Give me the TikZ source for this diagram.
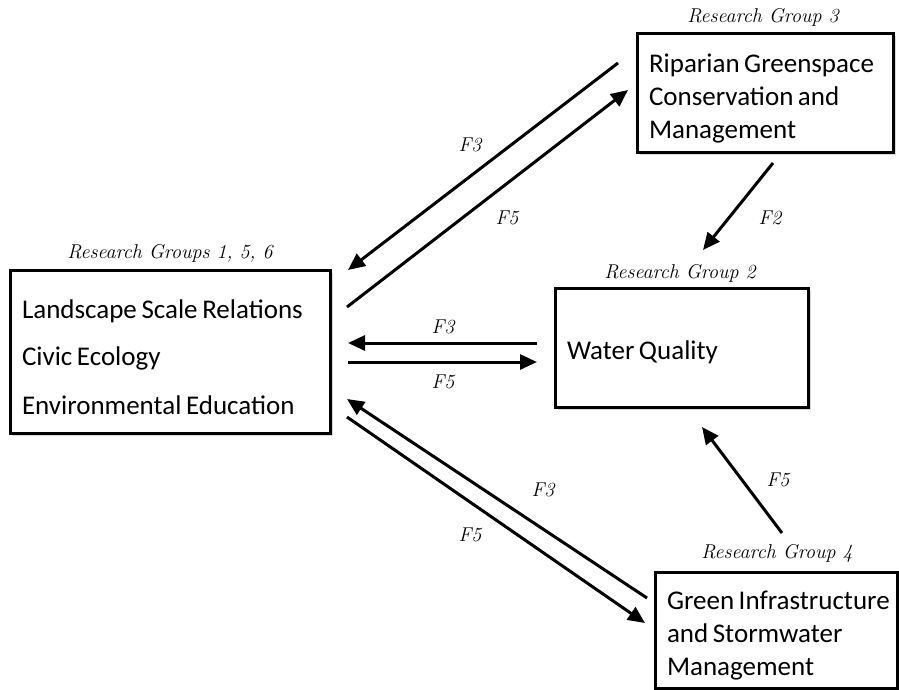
\documentclass[tikz,border=0pt]{standalone}
\usepackage{fontspec}
\newfontfamily\boxfont{Carlito}
\usetikzlibrary{arrows.meta,shadows}
\newcommand{\gstrut}{\rule{0pt}{30pt}}
\newcommand{\gboxsetup}{\spaceskip=0.17em\relax\hyphenpenalty=10000\relax}
\begin{document}
\begin{tikzpicture}[x=1pt,y=-1pt,
  gbox/.style={draw=black, line width=3pt, fill=white, rectangle, inner xsep=12pt, inner ysep=0pt,
    align=left, font=\boxfont\fontsize{27}{33}\selectfont,
    execute at begin node=\gboxsetup,
    drop shadow={shadow xshift=3pt,shadow yshift=-3pt,fill=black!30}},
  glabel/.style={font=\itshape\fontsize{20}{22}\selectfont, inner sep=0pt},
  flabel/.style={font=\itshape\fontsize{20}{22}\selectfont, inner sep=0pt},
  flow/.style={line width=3pt, -{Triangle[length=17pt,width=15pt]}}
]
\useasboundingbox[fill=white] (0,0) rectangle (899,689);

% boxes
\node[gbox, minimum width=320pt, minimum height=163pt, text width=296pt] (L) at (170,351.5)
  {\gstrut Landscape Scale Relations\\[14pt]Civic Ecology\\[16pt]Environmental Education};
\node[gbox, minimum width=256pt, minimum height=119pt, text width=232pt] (R3) at (765,92.5)
  {\gstrut Riparian Greenspace\\Conservation and\\Management};
\node[gbox, minimum width=253pt, minimum height=119pt, text width=229pt] (W) at (681.5,347.5)
  {\rule{0pt}{28pt}Water Quality};
\node[gbox, minimum width=242pt, minimum height=116pt, text width=218pt] (G) at (776,630)
  {\gstrut\mbox{Green Infrastructure}\\and Stormwater\\Management};

% group labels
\node[glabel] (l1) at (170,253) {Research Groups 1, 5, 6};
\node[glabel] (l3) at (763,17) {Research Group 3};
\node[glabel] (l2) at (680,273) {Research Group 2};
\node[glabel] (l4) at (777,553) {Research Group 4};

% connector ends
\coordinate (a1s) at (618,63);  \coordinate (a1e) at (348,270);
\coordinate (a2s) at (347,307); \coordinate (a2e) at (628,90);
\coordinate (a3s) at (773,163); \coordinate (a3e) at (703,250);
\coordinate (a4s) at (537,343); \coordinate (a4e) at (348,343);
\coordinate (a5s) at (348,362); \coordinate (a5e) at (537,362);
\coordinate (a6s) at (647,598); \coordinate (a6e) at (347,399);
\coordinate (a7s) at (347,417); \coordinate (a7e) at (645,623);
\coordinate (a8s) at (782,533); \coordinate (a8e) at (702,427);

\draw[flow] (a1s) -- (a1e);
\draw[flow] (a2s) -- (a2e);
\draw[flow] (a3s) -- (a3e);
\draw[flow] (a4s) -- (a4e);
\draw[flow] (a5s) -- (a5e);
\draw[flow] (a6s) -- (a6e);
\draw[flow] (a7s) -- (a7e);
\draw[flow] (a8s) -- (a8e);

% flow labels
\node[flabel] (f1) at (470,145) {F3};
\node[flabel] (f2) at (507,218) {F5};
\node[flabel] (f3) at (770,218) {F2};
\node[flabel] (f4) at (443,327) {F3};
\node[flabel] (f5) at (443,382) {F5};
\node[flabel] (f6) at (543,490) {F3};
\node[flabel] (f7) at (470,535) {F5};
\node[flabel] (f8) at (778,480) {F5};
\end{tikzpicture}
\end{document}
